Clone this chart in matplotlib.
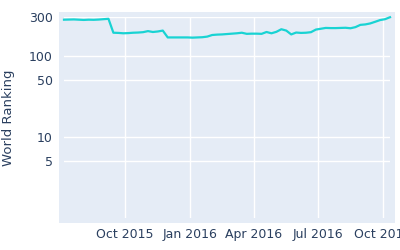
import matplotlib
matplotlib.use("Agg")
import matplotlib.pyplot as plt
import matplotlib.dates as mdates
import pandas as pd
from matplotlib.ticker import FixedLocator, NullLocator

# weekly world ranking, Jul 2015 - Oct 2016
start_date = "2015-07-07"
ranking = [278, 279, 280, 278, 276, 278, 277, 279, 282, 285,
           192, 191, 189, 190, 192, 193, 195, 201, 196, 199,
           204, 168, 168, 168, 168, 168, 167, 168, 169, 172,
           180, 182, 183, 185, 187, 189, 192, 186, 187, 187,
           186, 196, 189, 197, 212, 204, 183, 193, 191, 192,
           195, 210, 215, 220, 219, 219, 220, 221, 218, 225,
           240, 243, 250, 262, 275, 282, 298]
dates = pd.date_range(start_date, periods=len(ranking), freq="7D")

y_ticks = [5, 10, 50, 100, 300]
x_ticks = ["2015-10-01", "2016-01-01", "2016-04-01", "2016-07-01", "2016-10-01"]

txt = "#2a3f5f"
plt.rcParams["font.family"] = ["DejaVu Sans"]

W, H = 400, 250
fig = plt.figure(figsize=(4, 2.5), dpi=100)

# plotly-style padded background behind the grid area
bg = fig.add_axes([59 / W, (H - 223) / H, 336 / W, 211 / H])
bg.set_facecolor("#E5ECF6")
bg.set_xticks([])
bg.set_yticks([])
for s in bg.spines.values():
    s.set_visible(False)

ax = fig.add_axes([64 / W, (H - 218) / H, 326 / W, 201 / H])
ax.set_facecolor("none")
ax.plot(dates, ranking, color="#19D3D3", lw=1.6, solid_joinstyle="round", clip_on=False)

ax.set_yscale("log")
ax.set_ylim(1, 300)
ax.yaxis.set_major_locator(FixedLocator(y_ticks))
ax.yaxis.set_minor_locator(NullLocator())
ax.set_yticklabels([str(v) for v in y_ticks])

ax.set_xlim(dates[0], dates[-1])
ax.set_xticks(pd.to_datetime(x_ticks))
ax.xaxis.set_major_formatter(mdates.DateFormatter("%b %Y"))

ax.grid(True, color="white", lw=1)
ax.set_axisbelow(True)
for s in ax.spines.values():
    s.set_visible(False)
ax.tick_params(axis="y", length=0, labelsize=9, colors=txt, pad=8)
ax.tick_params(axis="x", length=0, labelsize=9, colors=txt, pad=7)
ax.set_ylabel("World Ranking", fontsize=9.5, color=txt, labelpad=10)

fig.savefig("out.png", dpi=100)
